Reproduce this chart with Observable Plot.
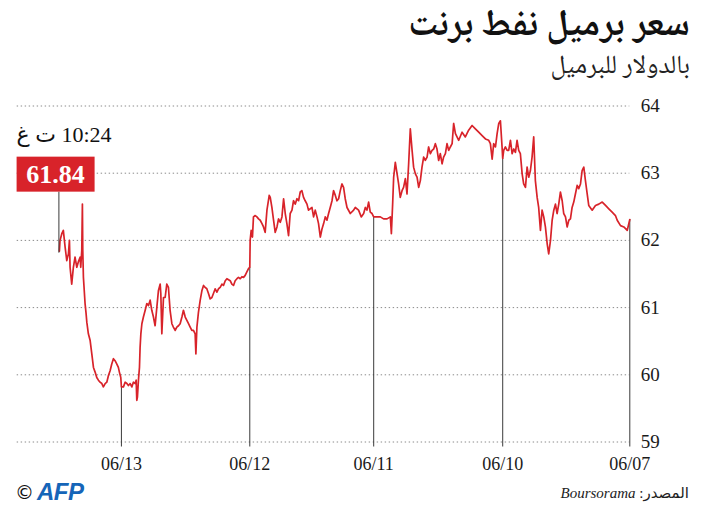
<!DOCTYPE html>
<html><head><meta charset="utf-8">
<script src="https://cdn.jsdelivr.net/npm/d3@7"></script>
<script src="https://cdn.jsdelivr.net/npm/@observablehq/plot@0.6"></script>
<style>
body{margin:0;background:#fff;}
#wrap{position:relative;width:702px;height:516px;overflow:hidden;background:#fff;}
#title{position:absolute;right:12px;top:3px;font-family:"Noto Naskh Arabic","Noto Sans Arabic","DejaVu Sans",sans-serif;font-weight:bold;font-size:37px;line-height:48px;direction:rtl;white-space:nowrap;color:#111;}
#subtitle{position:absolute;right:12px;top:52px;font-family:"Noto Naskh Arabic","Noto Sans Arabic","DejaVu Sans",sans-serif;font-size:26px;line-height:30px;direction:rtl;white-space:nowrap;color:#222;}
#chart{position:absolute;left:0;top:90px;}
#logo{position:absolute;left:15px;top:478px;white-space:nowrap;}
#logo .copy{font-family:"DejaVu Sans",sans-serif;font-size:19px;color:#111;vertical-align:middle;}
#logo .afp{font-family:"Liberation Sans",Arial,sans-serif;font-weight:bold;font-style:italic;font-size:24px;color:#1565b8;letter-spacing:-0.5px;vertical-align:middle;margin-left:3px;}
#source{position:absolute;right:13px;top:484px;direction:rtl;white-space:nowrap;font-family:"Liberation Serif","DejaVu Sans",serif;font-size:15px;color:#222;}
#source i{font-family:"Liberation Serif",serif;}
</style>
</head><body>
<div id="wrap">
  <div id="title">سعر برميل نفط برنت</div>
  <div id="subtitle">بالدولار للبرميل</div>
  <div id="chart"></div>
  <div id="logo"><span class="copy">©</span><span class="afp">AFP</span></div>
  <div id="source"><span>المصدر: </span><i>Boursorama</i></div>
</div>
<script>
// time in trading days since the 06/07 session start (right edge), price in USD per barrel
const times = [0,0.020,0.047,0.073,0.099,0.113,0.139,0.165,0.191,0.217,0.244,0.270,0.296,0.323,0.335,0.349,0.362,0.375,0.388,0.402,0.414,0.428,0.441,0.454,0.467,0.480,0.493,0.506,0.520,0.532,0.546,0.559,0.572,0.585,0.598,0.611,0.624,0.638,0.650,0.664,0.677,0.690,0.703,0.717,0.729,0.743,0.756,0.769,0.782,0.795,0.808,0.821,0.835,0.847,0.861,0.874,0.887,0.900,0.913,0.926,0.939,0.953,0.965,0.979,0.992,1.000,1.005,1.018,1.031,1.044,1.057,1.071,1.083,1.097,1.110,1.136,1.162,1.189,1.215,1.241,1.268,1.294,1.320,1.346,1.372,1.386,1.398,1.412,1.425,1.438,1.451,1.465,1.477,1.491,1.504,1.517,1.530,1.543,1.556,1.569,1.583,1.595,1.609,1.622,1.635,1.648,1.661,1.674,1.687,1.701,1.713,1.727,1.740,1.753,1.766,1.780,1.792,1.806,1.819,1.831,1.845,1.858,1.866,1.876,1.884,1.910,1.937,1.963,1.989,2.015,2.028,2.042,2.055,2.068,2.081,2.094,2.113,2.134,2.160,2.173,2.199,2.225,2.239,2.252,2.265,2.278,2.291,2.304,2.317,2.331,2.343,2.357,2.370,2.383,2.396,2.409,2.422,2.435,2.449,2.461,2.475,2.488,2.501,2.528,2.540,2.554,2.567,2.580,2.593,2.606,2.619,2.632,2.646,2.658,2.672,2.685,2.698,2.711,2.724,2.737,2.750,2.764,2.776,2.790,2.803,2.816,2.829,2.837,2.855,2.869,2.882,2.894,2.908,2.921,2.934,2.947,2.961,2.969,2.979,2.987,2.990,3.000,3.013,3.026,3.039,3.052,3.065,3.079,3.091,3.105,3.118,3.131,3.144,3.170,3.183,3.197,3.209,3.223,3.236,3.249,3.262,3.276,3.288,3.302,3.315,3.328,3.341,3.354,3.367,3.380,3.394,3.406,3.414,3.420,3.433,3.446,3.459,3.472,3.485,3.498,3.512,3.524,3.538,3.551,3.564,3.577,3.591,3.603,3.617,3.630,3.643,3.656,3.669,3.682,3.690,3.695,3.709,3.721,3.735,3.748,3.761,3.774,3.787,3.800,3.813,3.827,3.839,3.847,3.853,3.858,3.866,3.874,3.879,3.884,3.892,3.906,3.918,3.931,3.945,3.957,3.971,3.984,4.000,4.005,4.016,4.024,4.036,4.050,4.063,4.076,4.089,4.102,4.115,4.128,4.142,4.154,4.168,4.181,4.194,4.207,4.220,4.233,4.246,4.260,4.272,4.278,4.286,4.299,4.304,4.307,4.312,4.320,4.325,4.339,4.351,4.365,4.378,4.391,4.404,4.409,4.417,4.430,4.443,4.457,4.469,4.483,4.488];
const prices = [62.31,62.15,62.20,62.22,62.30,62.37,62.42,62.47,62.52,62.57,62.54,62.52,62.45,62.52,62.69,62.89,63.09,63.04,62.84,62.77,62.82,62.69,62.57,62.49,62.32,62.30,62.20,62.35,62.40,62.59,62.72,62.54,62.40,62.54,62.45,62.30,62.00,61.80,61.95,62.20,62.35,62.45,62.15,62.49,62.64,62.89,63.54,63.24,63.04,62.94,63.09,62.79,62.84,62.99,63.29,63.34,63.49,63.31,63.36,63.29,63.49,63.34,63.34,63.39,63.34,63.22,63.39,63.78,63.74,63.59,63.39,63.44,63.21,63.44,63.49,63.51,63.56,63.61,63.66,63.71,63.64,63.54,63.61,63.49,63.59,63.74,63.44,63.39,63.34,63.44,63.29,63.24,63.14,63.29,63.19,63.36,63.44,63.36,63.34,63.29,63.39,63.24,63.19,63.24,63.09,62.89,62.79,62.94,62.99,63.09,63.34,63.66,63.14,62.69,62.92,62.79,62.74,62.64,62.84,62.99,63.16,62.94,62.54,62.10,62.35,62.32,62.32,62.35,62.35,62.35,62.40,62.42,62.57,62.45,62.49,62.40,62.35,62.45,62.49,62.45,62.40,62.49,62.62,62.79,62.84,62.74,62.62,62.59,62.67,62.74,62.59,62.49,62.40,62.30,62.35,62.25,62.17,62.05,62.25,62.35,62.45,62.35,62.49,62.45,62.54,62.59,62.64,62.74,62.72,62.59,62.62,62.54,62.59,62.45,62.40,62.07,62.25,62.40,62.62,62.35,62.27,62.32,62.20,62.12,62.30,62.49,62.64,62.67,62.45,62.12,62.20,62.25,62.30,62.32,62.35,62.37,62.35,62.05,62.15,62.00,61.60,61.58,61.53,61.48,61.45,61.46,61.43,61.45,61.43,61.40,61.33,61.35,61.40,61.43,61.40,61.33,61.35,61.30,61.28,61.23,61.28,61.21,61.15,61.13,61.21,61.28,61.30,61.33,61.25,61.11,60.93,60.71,60.31,60.61,60.66,60.66,60.71,60.76,60.81,60.86,60.96,60.86,60.76,60.73,60.71,60.66,60.71,60.76,60.96,61.30,61.35,61.15,61.15,60.61,61.21,61.35,61.25,61.01,60.73,60.86,60.96,61.11,61.03,61.06,60.96,60.86,60.76,60.61,60.41,60.11,59.92,59.67,59.62,59.92,59.87,59.89,59.82,59.87,59.84,59.87,59.89,59.82,59.82,59.96,60.04,60.11,60.16,60.21,60.24,60.16,60.06,59.99,59.89,59.87,59.82,59.87,59.89,59.92,59.96,60.04,60.11,60.31,60.51,60.61,60.78,60.91,61.06,61.45,61.85,62.54,61.85,61.60,61.75,61.68,61.60,61.75,61.60,61.35,61.60,62.00,61.80,61.70,61.90,62.15,62.10,62.00,61.84];

const sessionStarts = [0, 1.0, 2.015, 2.99, 4.0];
const dayLabels = ["06/07", "06/10", "06/11", "06/12", "06/13"];
const yTicks = [59, 60, 61, 62, 63, 64];
const lastTimeLabel = "10:24 ت غ";

const red = "#d8232a";
const series = times.map((d, i) => ({d, v: prices[i]}));
const sessionRows = sessionStarts.map(s => {
  const p = d3.least(series, q => Math.abs(q.d - s));
  return {d: s, v: p.v};
});
const last = series[series.length - 1];

const plot = Plot.plot({
  width: 702,
  height: 390,
  marginLeft: 16.7,
  marginRight: 72.7,
  marginTop: 15.5,
  marginBottom: 38.5,
  style: {fontFamily: "'Liberation Serif', serif", fontSize: "18px", color: "#1a1a1a", background: "transparent", overflow: "visible"},
  x: {domain: [4.82, 0], label: null},
  y: {domain: [59, 64], label: null},
  marks: [
    Plot.ruleY(yTicks, {stroke: "#8a8a8a", strokeDasharray: "1.4,2.6", strokeWidth: 1}),
    Plot.ruleX(sessionRows, {x: "d", y1: "v", y2: () => 59, insetBottom: -5, stroke: "#3a3a3a", strokeWidth: 1}),
    Plot.line(series, {x: "d", y: "v", stroke: red, strokeWidth: 1.7}),
    Plot.axisX(sessionStarts, {tickSize: 0, tickPadding: 15, tickFormat: d => dayLabels[sessionStarts.indexOf(d)], fontSize: 18, label: null}),
    Plot.axisY(yTicks, {anchor: "right", tickSize: 0, tickPadding: 11, fontSize: 19, tickFormat: d => String(d), label: null})
  ]
});

const sx = plot.scale("x"), sy = plot.scale("y");
const lx = sx.apply(last.d), ly = sy.apply(last.v);
const g = d3.select(plot).append("g");
g.append("line").attr("x1", lx).attr("x2", lx).attr("y1", ly + 2).attr("y2", ly - 59)
  .attr("stroke", "#3a3a3a").attr("stroke-width", 1);
g.append("rect").attr("x", lx - 42.3).attr("y", ly - 94).attr("width", 78).attr("height", 35).attr("fill", red);
g.append("text").attr("x", lx - 3.5).attr("y", ly - 76.5).attr("dy", "0.35em")
  .attr("text-anchor", "middle").attr("fill", "#fff").attr("font-weight", "bold")
  .attr("font-size", 26).attr("font-family", "'Liberation Serif', serif")
  .text(last.v.toFixed(2));
g.append("text").attr("x", lx - 42.3).attr("y", ly - 109)
  .attr("direction", "rtl").style("direction", "rtl").attr("text-anchor", "end")
  .attr("fill", "#111").attr("font-size", 22).attr("font-family", "'Liberation Serif', 'DejaVu Sans', serif")
  .text(lastTimeLabel);

document.getElementById("chart").appendChild(plot);
</script>
</body></html>
